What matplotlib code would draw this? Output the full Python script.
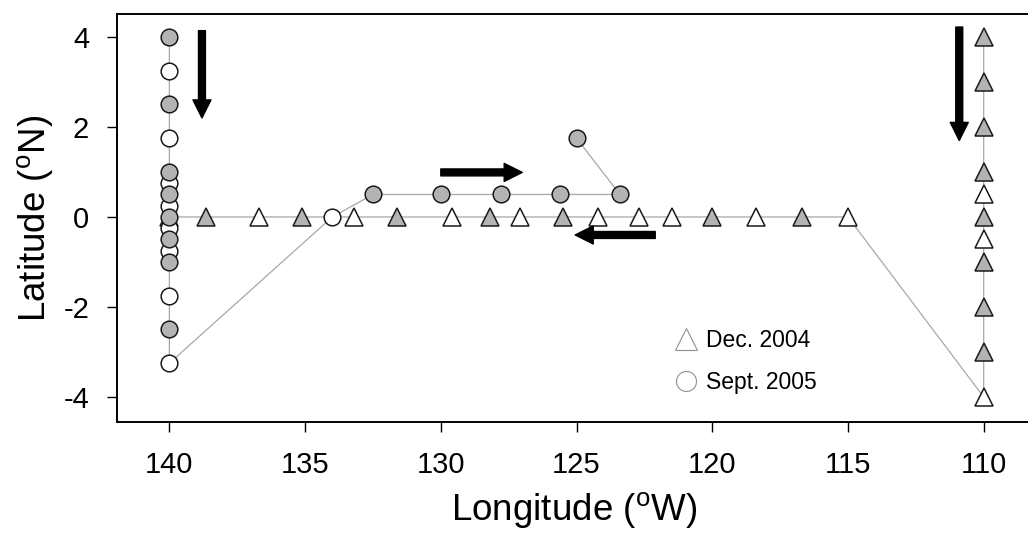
import matplotlib
matplotlib.use("Agg")
import matplotlib.pyplot as plt
from matplotlib.lines import Line2D

plt.rcParams['font.family'] = ['Liberation Sans', 'DejaVu Sans']
plt.rcParams['mathtext.fontset'] = 'custom'
plt.rcParams['mathtext.rm'] = 'Liberation Sans'
plt.rcParams['axes.unicode_minus'] = False

# Dec. 2004 cruise (triangles): south along 110W, then NW to equator, west along 0
dec_lon = [110, 110, 110, 110, 110, 110, 110, 110, 110, 110, 110,
           115.0, 116.7, 118.4, 120.0, 121.5, 122.7, 124.2, 125.5, 127.1,
           128.2, 129.6, 131.6, 133.2, 135.1, 136.7, 138.65, 140.0]
dec_lat = [4, 3, 2, 1, 0.5, 0, -0.5, -1, -2, -3, -4,
           0, 0, 0, 0, 0, 0, 0, 0, 0,
           0, 0, 0, 0, 0, 0, 0, 0]
dec_fill = [1, 1, 1, 1, 0, 1, 0, 1, 1, 1, 0,
            0, 1, 0, 1, 0, 0, 0, 1, 0,
            1, 0, 1, 0, 1, 0, 1, 1]

# Sept. 2005 cruise (circles): south along 140W, NE to 0.5N, east, then NW
sep_lon = [140, 140, 140, 140, 140, 140, 140, 140, 140, 140, 140, 140, 140, 140, 140, 140,
           134.0, 132.5, 130.0, 127.8, 125.6, 123.4, 125.0]
sep_lat = [4, 3.25, 2.5, 1.75, 1, 0.75, 0.5, 0.25, 0, -0.25, -0.5, -0.75, -1, -1.75, -2.5, -3.25,
           0, 0.5, 0.5, 0.5, 0.5, 0.5, 1.75]
sep_fill = [1, 0, 1, 0, 1, 0, 1, 0, 1, 0, 1, 0, 1, 0, 1, 0,
            0, 1, 1, 1, 1, 1, 1]

# direction arrows: (tail_lon, tail_lat, tip_lon, tip_lat)
arrows = [(138.8, 4.14, 138.8, 2.2),
          (110.9, 4.22, 110.9, 1.7),
          (130.0, 0.99, 127.0, 0.99),
          (122.1, -0.4, 125.05, -0.4)]

x_ticks = [140, 135, 130, 125, 120, 115, 110]
y_ticks = [-4, -2, 0, 2, 4]
legend_labels = ['Dec. 2004', 'Sept. 2005']

GRAY = '#b3b3b3'
LINE = '#a8a8a8'

fig = plt.figure(figsize=(10.28, 5.40), dpi=100)
ax = fig.add_axes([117 / 1028, 1 - 422 / 540, (1032 - 117) / 1028, (422 - 14) / 540])

ax.plot(dec_lon, dec_lat, color=LINE, lw=0.9, zorder=1)
ax.plot(sep_lon, sep_lat, color=LINE, lw=0.9, zorder=1)

for lon, lat, f in zip(dec_lon, dec_lat, dec_fill):
    ax.plot(lon, lat, marker='^', ms=12.5, mfc=GRAY if f else 'white',
            mec='#1a1a1a', mew=1.1, ls='none', zorder=3)

# open circles below, filled on top
for want in (0, 1):
    for lon, lat, f in zip(sep_lon, sep_lat, sep_fill):
        if f == want:
            ax.plot(lon, lat, marker='o', ms=12, mfc=GRAY if f else 'white',
                    mec='#1a1a1a', mew=1.1, ls='none', zorder=4 + want)

for x0, y0, x1, y1 in arrows:
    ax.annotate('', xy=(x1, y1), xytext=(x0, y0),
                arrowprops=dict(arrowstyle='simple,head_width=0.65,head_length=0.65,tail_width=0.25',
                                fc='black', ec='black', shrinkA=0, shrinkB=0,
                                mutation_scale=20), zorder=6)

ax.set_xlim(141.93, 108.22)
ax.set_ylim(-4.556, 4.51)
ax.set_xticks(x_ticks)
ax.set_yticks(y_ticks)
ax.tick_params(axis='both', direction='out', length=7, width=1.0, labelsize=21)
ax.tick_params(axis='x', pad=14)
ax.tick_params(axis='y', pad=13)
for s in ax.spines.values():
    s.set_linewidth(1.4)

ax.set_xlabel('Longitude ($^{\\rm o}$W)', fontsize=26.5, labelpad=8)
ax.set_ylabel('Latitude ($^{\\rm o}$N)', fontsize=26.5, labelpad=5)

handles = [Line2D([], [], marker='^', ms=16, mfc='white', mec='#909090', mew=0.8, ls='none'),
           Line2D([], [], marker='o', ms=14.4, mfc='white', mec='#909090', mew=0.8, ls='none')]
ax.legend(handles, legend_labels, loc='upper left',
          bbox_to_anchor=(0.609, 0.227), frameon=False, fontsize=16.5,
          handletextpad=0.37, labelspacing=0.8, borderaxespad=0, borderpad=0,
          handlelength=1.0)

fig.savefig('out.png', dpi=100)
